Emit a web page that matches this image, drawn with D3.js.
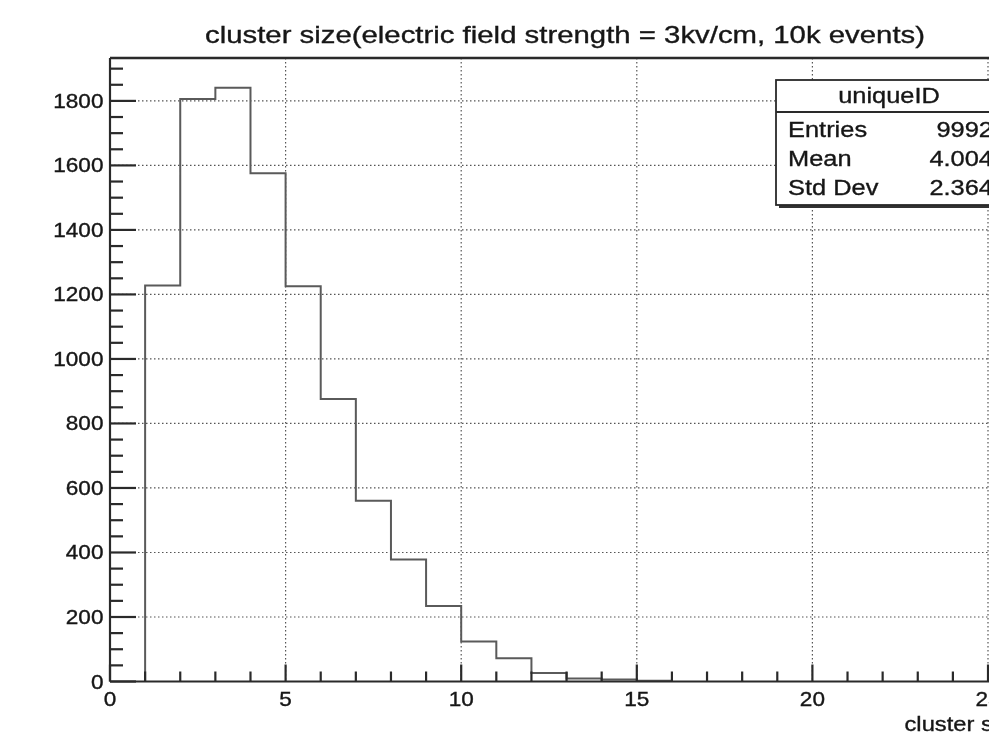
<!DOCTYPE html>
<html>
<head>
<meta charset="utf-8">
<script src="https://cdn.jsdelivr.net/npm/d3@7"></script>
<style>
  html, body { margin: 0; padding: 0; background: #fff; overflow: hidden; }
  svg { display: block; }
  text { font-family: "Liberation Sans", Arial, Helvetica, sans-serif; fill: #151515; stroke: #151515; stroke-width: 0.35px; }
</style>
</head>
<body>
<svg id="chart" width="989" height="735"></svg>
<script>
// Histogram of cluster sizes: lower bin edges and counts per unit-width bin
const binLow = [1, 2, 3, 4, 5, 6, 7, 8, 9, 10, 11, 12, 13, 14, 15];
const counts = [1228, 1806, 1841, 1576, 1225, 876, 560, 378, 234, 124, 72, 26, 9, 6, 2];

const xTicks = [0, 5, 10, 15, 20, 25];
const yTicks = [0, 200, 400, 600, 800, 1000, 1200, 1400, 1600, 1800];

const titleText = "cluster size(electric field strength = 3kv/cm, 10k events)";
const xTitle = "cluster size";

// Statistics box contents
const statHeader = "uniqueID";
const statNames = ["Entries", "Mean", "Std Dev"];
const statValues = ["9992", "4.004", "2.364"];

const svg = d3.select("#chart");
const frame = { left: 110, top: 58, bottom: 681.5 };
const xMax = 26;
const yMax = 1933;
const stretch = 1.13; // wide-set lettering

const x = d3.scaleLinear().domain([0, xMax]).range([frame.left, frame.left + xMax * 35.12]);
const y = d3.scaleLinear().domain([0, yMax]).range([frame.bottom, frame.top]);
const right = x(xMax);

svg.append("defs").append("filter").attr("id", "soft")
  .append("feGaussianBlur").attr("stdDeviation", 0.45);
const g = svg.append("g").attr("filter", "url(#soft)");

// Text with horizontally widened glyphs, anchored at (tx, ty)
function label(parent, tx, ty, str, size, anchor) {
  return parent.append("text")
    .attr("transform", `translate(${tx},${ty}) scale(${stretch},1)`)
    .attr("text-anchor", anchor || "start")
    .attr("font-size", size)
    .text(str);
}

// Dotted grid
const gridColor = "#555";
g.append("g").selectAll("line").data(yTicks.filter(d => d > 0)).join("line")
  .attr("x1", frame.left).attr("x2", right)
  .attr("y1", d => y(d)).attr("y2", d => y(d))
  .attr("stroke", gridColor).attr("stroke-width", 1.2).attr("stroke-dasharray", "1.5,2.5");
g.append("g").selectAll("line").data(xTicks.filter(d => d > 0)).join("line")
  .attr("x1", d => x(d)).attr("x2", d => x(d))
  .attr("y1", frame.top).attr("y2", frame.bottom)
  .attr("stroke", gridColor).attr("stroke-width", 1.2).attr("stroke-dasharray", "1.5,2.5");

// Histogram outline (step line)
const pts = [[binLow[0], 0]];
binLow.forEach((lo, i) => {
  pts.push([lo, counts[i]]);
  pts.push([lo + 1, counts[i]]);
});
pts.push([binLow[binLow.length - 1] + 1, 0]);
g.append("path")
  .attr("d", d3.line().x(d => x(d[0])).y(d => y(d[1]))(pts))
  .attr("fill", "none").attr("stroke", "#5a5a5a").attr("stroke-width", 2);

// Frame
const axisColor = "#2a2a2a";
g.append("line").attr("x1", frame.left).attr("x2", right + 5)
  .attr("y1", frame.top).attr("y2", frame.top)
  .attr("stroke", axisColor).attr("stroke-width", 2.5);
g.append("line").attr("x1", frame.left).attr("x2", frame.left)
  .attr("y1", frame.top).attr("y2", frame.bottom)
  .attr("stroke", axisColor).attr("stroke-width", 2.2);
g.append("line").attr("x1", frame.left).attr("x2", right + 5)
  .attr("y1", frame.bottom).attr("y2", frame.bottom)
  .attr("stroke", axisColor).attr("stroke-width", 2.2);

// Y axis ticks (inside the frame) and labels
const yMinor = d3.range(0, yMax, 50);
g.append("g").selectAll("line").data(yMinor).join("line")
  .attr("x1", frame.left).attr("x2", d => frame.left + (d % 200 === 0 ? 26 : 13))
  .attr("y1", d => y(d)).attr("y2", d => y(d))
  .attr("stroke", axisColor).attr("stroke-width", 2.2);
const yLab = g.append("g");
yTicks.forEach(d => label(yLab, frame.left - 6.5, y(d) + 7, d, 20, "end"));

// X axis ticks and labels
const xMinor = d3.range(0, Math.floor(xMax) + 1, 1);
g.append("g").selectAll("line").data(xMinor).join("line")
  .attr("x1", d => x(d)).attr("x2", d => x(d))
  .attr("y1", frame.bottom).attr("y2", d => frame.bottom - (d % 5 === 0 ? 17 : 10))
  .attr("stroke", axisColor).attr("stroke-width", 2.2);
const xLab = g.append("g");
xTicks.forEach(d => label(xLab, x(d), frame.bottom + 24, d, 20, "middle"));

// Axis title, right-aligned at the end of the axis
label(g, right, 731, xTitle, 21, "end");

// Title
g.append("text").attr("x", 565).attr("y", 43)
  .attr("text-anchor", "middle").attr("font-size", 24.5)
  .attr("textLength", 720).attr("lengthAdjust", "spacingAndGlyphs")
  .text(titleText);

// Statistics box
const box = { x: 776, y: 80, w: 260, h: 125, head: 32 };
const sb = g.append("g");
sb.append("rect").attr("x", box.x + 3).attr("y", box.y + 3).attr("width", box.w).attr("height", box.h)
  .attr("fill", "#333");
sb.append("rect").attr("x", box.x).attr("y", box.y).attr("width", box.w).attr("height", box.h)
  .attr("fill", "#fff").attr("stroke", axisColor).attr("stroke-width", 1.8);
sb.append("line").attr("x1", box.x).attr("x2", box.x + box.w)
  .attr("y1", box.y + box.head).attr("y2", box.y + box.head)
  .attr("stroke", axisColor).attr("stroke-width", 1.8);
label(sb, 889, 103, statHeader, 22.5, "middle");
statNames.forEach((name, i) => {
  const ty = 137 + i * 29;
  label(sb, 788, ty, name, 22.5, "start");
  label(sb, 993, ty, statValues[i], 22.5, "end");
});
</script>
</body>
</html>
